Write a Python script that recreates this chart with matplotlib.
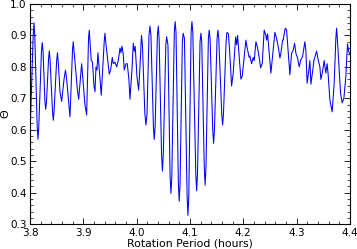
import numpy as np
import matplotlib
matplotlib.use("Agg")
import matplotlib.pyplot as plt
from matplotlib.ticker import MultipleLocator

# rotation period (hours) and Theta at the turning points
period = [3.800, 3.8075, 3.815, 3.823, 3.8294, 3.8362, 3.8437, 3.8516, 3.8563, 3.8594,
          3.8638, 3.8666, 3.8688, 3.875, 3.8812, 3.8863, 3.8887, 3.8913, 3.8969, 3.9031,
          3.9063, 3.9112, 3.9149, 3.9172, 3.920, 3.9219, 3.9238, 3.9256, 3.9275, 3.9337,
          3.9406, 3.9487, 3.9513, 3.9543, 3.9562, 3.9594, 3.9626, 3.9656, 3.9688, 3.9706,
          3.9725, 3.9749, 3.9768, 3.980, 3.9824, 3.9856, 3.9875, 3.9913, 3.9937, 3.9956,
          3.9974, 4.0006, 4.0038, 4.0063, 4.0091, 4.0109, 4.0175, 4.025, 4.0269, 4.0331,
          4.0406, 4.0484, 4.0563, 4.0588, 4.0644, 4.0723, 4.0799, 4.0874, 4.0897, 4.0963,
          4.1038, 4.1126, 4.1206, 4.1285, 4.1362, 4.1444, 4.1525, 4.1613, 4.1694, 4.1722,
          4.1741, 4.1782, 4.1812, 4.1857, 4.1876, 4.1894, 4.1956, 4.1981, 4.205, 4.2074,
          4.2112, 4.2125, 4.2157, 4.2187, 4.2206, 4.2238, 4.2269, 4.2299, 4.2326, 4.2356,
          4.2393, 4.2425, 4.2438, 4.2457, 4.2519, 4.2594, 4.2626, 4.2656, 4.2688, 4.2706,
          4.2738, 4.2749, 4.2787, 4.2813, 4.2875, 4.2907, 4.2937, 4.2963, 4.2988, 4.3019,
          4.3049, 4.3081, 4.3113, 4.3156, 4.3175, 4.3199, 4.3231, 4.325, 4.3269, 4.3301,
          4.3325, 4.3376, 4.3406, 4.3438, 4.3456, 4.3488, 4.3518, 4.355, 4.3574, 4.3593,
          4.3625, 4.3668, 4.3706, 4.3751, 4.3788, 4.3826, 4.3856, 4.3888, 4.3925, 4.3957,
          4.3976, 4.400]
theta = [0.58, 0.94, 0.57, 0.877, 0.665, 0.851, 0.63, 0.845, 0.72, 0.69,
         0.76, 0.79, 0.76, 0.641, 0.88, 0.78, 0.73, 0.697, 0.81, 0.68,
         0.647, 0.917, 0.82, 0.815, 0.74, 0.721, 0.80, 0.79, 0.845, 0.71,
         0.907, 0.777, 0.79, 0.83, 0.81, 0.815, 0.80, 0.82, 0.86, 0.845,
         0.866, 0.84, 0.79, 0.81, 0.81, 0.76, 0.697, 0.79, 0.875, 0.85,
         0.865, 0.77, 0.726, 0.80, 0.90, 0.87, 0.615, 0.93, 0.90, 0.569,
         0.93, 0.469, 0.896, 0.87, 0.398, 0.944, 0.373, 0.907, 0.89, 0.328,
         0.944, 0.406, 0.907, 0.424, 0.917, 0.557, 0.917, 0.615, 0.91, 0.905,
         0.86, 0.739, 0.78, 0.895, 0.87, 0.90, 0.761, 0.77, 0.885, 0.86,
         0.83, 0.835, 0.81, 0.83, 0.82, 0.88, 0.86, 0.83, 0.797, 0.81,
         0.917, 0.90, 0.885, 0.905, 0.78, 0.91, 0.89, 0.865, 0.828, 0.843,
         0.885, 0.885, 0.923, 0.918, 0.775, 0.843, 0.853, 0.875, 0.843, 0.828,
         0.80, 0.823, 0.833, 0.88, 0.85, 0.748, 0.79, 0.82, 0.745, 0.785,
         0.82, 0.85, 0.822, 0.80, 0.76, 0.785, 0.82, 0.78, 0.81, 0.775,
         0.695, 0.657, 0.748, 0.923, 0.822, 0.715, 0.686, 0.70, 0.77, 0.873,
         0.85, 0.84]

# extra points read on the rounded flanks of the larger swings
period_flank = [3.806, 3.809, 3.8135, 3.8165, 3.8215, 3.8245, 3.828, 3.831, 3.8348, 3.8376,
                3.8422, 3.8452, 3.850, 3.8532, 3.8798, 3.8826, 3.9098, 3.9126, 3.9392, 3.942,
                4.0155, 4.0195, 4.0232, 4.0315, 4.0347, 4.039, 4.0422, 4.0468, 4.050, 4.0548,
                4.0628, 4.066, 4.0707, 4.0739, 4.0783, 4.0815, 4.0858, 4.0947, 4.0979, 4.1022,
                4.1054, 4.111, 4.1142, 4.119, 4.1222, 4.1269, 4.1301, 4.1346, 4.1378, 4.1428,
                4.146, 4.1509, 4.1541, 4.1597, 4.1629, 4.1678, 4.3737, 4.3765, 4.3943]
theta_flank = [0.90, 0.90, 0.61, 0.61, 0.85, 0.85, 0.69, 0.69, 0.825, 0.825,
               0.66, 0.66, 0.82, 0.81, 0.855, 0.85, 0.89, 0.88, 0.88, 0.88,
               0.65, 0.65, 0.90, 0.61, 0.61, 0.90, 0.89, 0.52, 0.52, 0.87,
               0.45, 0.45, 0.91, 0.91, 0.43, 0.43, 0.88, 0.39, 0.39, 0.91,
               0.91, 0.46, 0.46, 0.88, 0.88, 0.48, 0.48, 0.89, 0.89, 0.60,
               0.60, 0.89, 0.89, 0.65, 0.65, 0.88, 0.89, 0.89, 0.835]

x = np.array(period + period_flank)
y = np.array(theta + theta_flank)
order = np.argsort(x)

fig = plt.figure(figsize=(3.57, 2.49), dpi=100)
ax = fig.add_axes([0.084, 0.100, 0.896, 0.884])

ax.plot(x[order], y[order], color='#0000ff', lw=0.75)

ax.set_xlim(3.8, 4.4)
ax.set_ylim(0.3, 1.0)
ax.xaxis.set_major_locator(MultipleLocator(0.1))
ax.xaxis.set_minor_locator(MultipleLocator(0.02))
ax.yaxis.set_major_locator(MultipleLocator(0.1))
ax.yaxis.set_minor_locator(MultipleLocator(0.02))
ax.tick_params(which='both', direction='in', top=True, right=True, labelsize=7.5, pad=2.5)
ax.tick_params(which='major', length=4, width=0.6)
ax.tick_params(which='minor', length=2, width=0.5)
for s in ax.spines.values():
    s.set_linewidth(0.8)

ax.set_xlabel('Rotation Period (hours)', fontsize=7.8)
ax.xaxis.set_label_coords(0.5, -0.065)
ax.set_ylabel('Θ', fontsize=8)
ax.yaxis.set_label_coords(-0.062, 0.5)

fig.savefig('out.png', dpi=100)
